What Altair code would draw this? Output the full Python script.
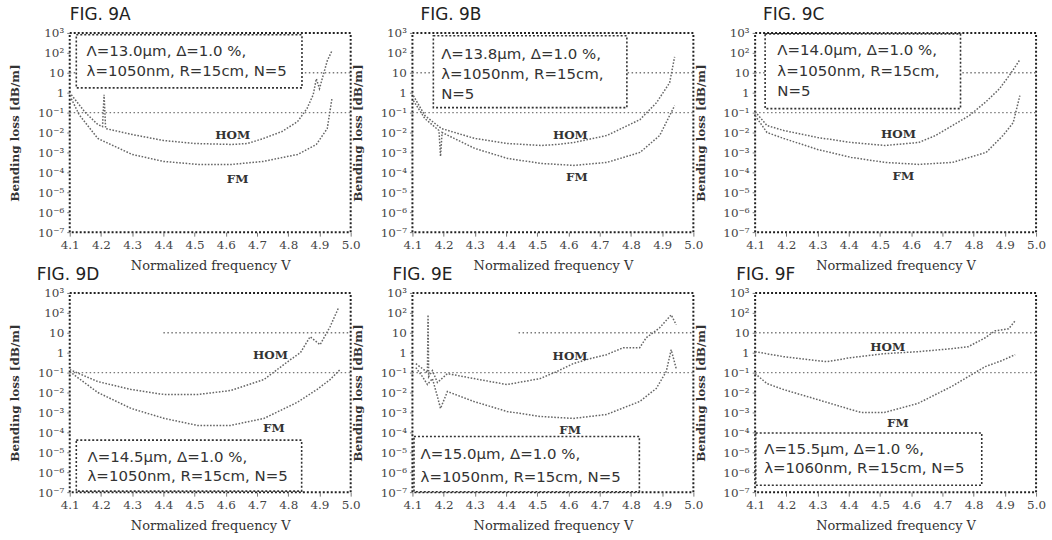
import altair as alt
import pandas as pd

# ---------------- data (x = normalized frequency V, e = log10 of bending loss in dB/m)
A_HOM_V = [4.105, 4.15, 4.19, 4.205, 4.21, 4.215, 4.30, 4.40, 4.50, 4.62, 4.67, 4.72, 4.78, 4.83, 4.86, 4.88, 4.89, 4.90, 4.925, 4.94]
A_HOM_E = [-0.1, -1.0, -1.6, -1.7, -0.1, -1.8, -2.1, -2.4, -2.55, -2.6, -2.55, -2.3, -1.95, -1.45, -0.8, -0.1, 0.7, 0.2, 1.6, 2.1]
A_FM_V = [4.105, 4.13, 4.19, 4.30, 4.40, 4.51, 4.62, 4.72, 4.83, 4.89, 4.925, 4.94]
A_FM_E = [-0.3, -1.1, -2.3, -3.1, -3.45, -3.6, -3.6, -3.45, -3.1, -2.6, -1.8, -0.3]

B_HOM_V = [4.103, 4.14, 4.193, 4.30, 4.405, 4.511, 4.564, 4.617, 4.723, 4.829, 4.882, 4.924, 4.94]
B_HOM_E = [-0.15, -1.15, -1.8, -2.3, -2.55, -2.65, -2.6, -2.5, -2.15, -1.35, -0.5, 0.5, 1.8]
B_FM_V = [4.103, 4.14, 4.185, 4.19, 4.195, 4.30, 4.405, 4.511, 4.617, 4.723, 4.829, 4.892, 4.924, 4.94]
B_FM_E = [-0.4, -1.3, -1.9, -3.2, -2.0, -2.8, -3.3, -3.55, -3.65, -3.5, -3.0, -2.15, -1.15, -0.65]

C_HOM_V = [4.10, 4.138, 4.192, 4.30, 4.408, 4.516, 4.624, 4.678, 4.732, 4.786, 4.84, 4.883, 4.916, 4.948]
C_HOM_E = [-0.95, -1.65, -1.9, -2.25, -2.5, -2.65, -2.5, -2.15, -1.65, -1.15, -0.45, 0.2, 0.9, 1.65]
C_FM_V = [4.10, 4.138, 4.192, 4.30, 4.408, 4.516, 4.624, 4.732, 4.84, 4.894, 4.927, 4.948]
C_FM_E = [-1.15, -2.0, -2.3, -2.85, -3.25, -3.5, -3.6, -3.5, -3.0, -2.15, -1.5, -0.15]

D_HOM_V = [4.10, 4.19, 4.297, 4.403, 4.509, 4.615, 4.722, 4.807, 4.839, 4.87, 4.902, 4.934, 4.961]
D_HOM_E = [-0.85, -1.45, -1.85, -2.1, -2.1, -1.9, -1.35, -0.35, 0.0, 0.8, 0.4, 1.3, 2.25]
D_FM_V = [4.10, 4.19, 4.297, 4.403, 4.509, 4.615, 4.722, 4.828, 4.892, 4.934, 4.966]
D_FM_E = [-0.95, -2.0, -2.8, -3.3, -3.65, -3.65, -3.3, -2.5, -1.85, -1.35, -0.85]

E_HOM_V = [4.111, 4.132, 4.148, 4.15, 4.152, 4.164, 4.18, 4.212, 4.297, 4.403, 4.509, 4.562, 4.615, 4.669, 4.722, 4.775, 4.828, 4.849, 4.892, 4.929, 4.945]
E_HOM_E = [-0.55, -0.8, -1.0, 1.9, -1.2, -0.9, -1.5, -1.05, -1.3, -1.6, -1.3, -0.95, -0.55, -0.3, -0.1, 0.25, 0.25, 0.75, 1.25, 1.9, 1.4]
E_FM_V = [4.111, 4.132, 4.148, 4.164, 4.18, 4.19, 4.212, 4.297, 4.403, 4.509, 4.615, 4.722, 4.828, 4.881, 4.913, 4.929, 4.945]
E_FM_E = [-0.75, -1.2, -1.6, -1.3, -2.2, -2.8, -1.95, -2.45, -2.95, -3.2, -3.3, -3.1, -2.45, -1.8, -0.95, 0.15, -0.8]

F_HOM_V = [4.10, 4.191, 4.299, 4.331, 4.406, 4.514, 4.621, 4.729, 4.783, 4.837, 4.869, 4.912, 4.933]
F_HOM_E = [0.05, -0.2, -0.4, -0.45, -0.25, -0.05, 0.05, 0.2, 0.3, 0.75, 1.1, 1.2, 1.6]
F_FM_V = [4.10, 4.138, 4.191, 4.299, 4.406, 4.439, 4.514, 4.621, 4.729, 4.783, 4.837, 4.89, 4.933]
F_FM_E = [-1.05, -1.55, -1.85, -2.35, -2.85, -3.0, -3.0, -2.55, -1.7, -1.2, -0.7, -0.4, -0.1]

FIG_TITLES = ["FIG. 9A", "FIG. 9B", "FIG. 9C", "FIG. 9D", "FIG. 9E", "FIG. 9F"]

# curve labels
LBL_HOM_V = [4.622, 4.606, 4.559, 4.743, 4.605, 4.525]
LBL_HOM_E = [-2.13, -2.12, -2.07, -0.11, -0.19, 0.28]
LBL_FM_V = [4.638, 4.627, 4.575, 4.754, 4.605, 4.557]
LBL_FM_E = [-4.31, -4.24, -4.18, -3.8, -3.89, -3.52]

# parameter boxes
BOX_V1 = [4.121, 4.167, 4.132, 4.121, 4.105, 4.102]
BOX_V2 = [4.844, 4.787, 4.758, 4.843, 4.827, 4.826]
BOX_TOP = [2.91, 2.86, 2.95, -4.39, -4.21, -4.03]
BOX_BOTTOM = [0.24, -0.75, -0.8, -6.95, -6.98, -6.65]
TEXT_V = [4.154, 4.192, 4.171, 4.157, 4.126, 4.129]
TEXT_LINES = [
    ["Λ=13.0μm, Δ=1.0 %,", "λ=1050nm, R=15cm, N=5"],
    ["Λ=13.8μm, Δ=1.0 %,", "λ=1050nm, R=15cm,", "N=5"],
    ["Λ=14.0μm, Δ=1.0 %,", "λ=1050nm, R=15cm,", "N=5"],
    ["Λ=14.5μm, Δ=1.0 %,", "λ=1050nm, R=15cm, N=5"],
    ["Λ=15.0μm, Δ=1.0 %,", "λ=1050nm, R=15cm, N=5"],
    ["Λ=15.5μm, Δ=1.0 %,", "λ=1060nm, R=15cm, N=5"],
]
TEXT_E = [
    [2.1, 1.09],
    [1.95, 0.94, -0.06],
    [2.14, 1.07, 0.06],
    [-5.23, -6.21],
    [-5.07, -6.23],
    [-4.82, -5.81],
]

# dotted reference lines at 10 and 0.1 dB/m
GRID_E = [1, -1]
GRID10_START = [4.1, 4.1, 4.1, 4.40, 4.44, 4.1]

X_TICKS = [4.1, 4.2, 4.3, 4.4, 4.5, 4.6, 4.7, 4.8, 4.9, 5.0]
Y_TICKS = [-7, -6, -5, -4, -3, -2, -1, 0, 1, 2, 3]
Y_LABELS = ["10⁻⁷", "10⁻⁶", "10⁻⁵", "10⁻⁴", "10⁻³", "10⁻²", "10⁻¹", "1", "10", "10²", "10³"]

TITLE_DX = [0, 8, 8, -33, -20, -19]

HOM_V = [A_HOM_V, B_HOM_V, C_HOM_V, D_HOM_V, E_HOM_V, F_HOM_V]
HOM_E = [A_HOM_E, B_HOM_E, C_HOM_E, D_HOM_E, E_HOM_E, F_HOM_E]
FM_V = [A_FM_V, B_FM_V, C_FM_V, D_FM_V, E_FM_V, F_FM_V]
FM_E = [A_FM_E, B_FM_E, C_FM_E, D_FM_E, E_FM_E, F_FM_E]

# ---------------- chart
W, H = 282, 200
xs = alt.Scale(domain=[4.1, 5.0], nice=False, zero=False)
ys = alt.Scale(domain=[-7, 3], nice=False, zero=False)
label_expr = "[" + ",".join("'" + s + "'" for s in Y_LABELS) + "][datum.value + 7]"

X_AXIS = alt.Axis(
    values=X_TICKS, format=".1f", title="Normalized frequency    V",
    labelFont="DejaVu Serif", labelFontSize=12, labelColor="#444",
    titleFont="DejaVu Serif", titleFontSize=13, titleFontWeight="normal", titleColor="#333",
    titlePadding=9, labelPadding=3, domain=False, grid=False, tickSize=4, tickColor="#777",
    labelFlush=False,
)
Y_AXIS = alt.Axis(
    values=Y_TICKS, labelExpr=label_expr, title="Bending loss [dB/m]",
    labelFont="DejaVu Serif", labelFontSize=12, labelColor="#444",
    titleFont="DejaVu Serif", titleFontSize=12, titleFontWeight="bold", titleColor="#333",
    titlePadding=10, labelPadding=3, domain=False, grid=False, tickSize=3, tickColor="#777",
    minExtent=38, maxExtent=38, labelFlush=False,
)


def panel(i):
    rows = []
    for k, (v, e) in enumerate(zip(HOM_V[i], HOM_E[i])):
        rows.append({"series": "HOM", "idx": k, "V": v, "E": e})
    for k, (v, e) in enumerate(zip(FM_V[i], FM_E[i])):
        rows.append({"series": "FM", "idx": k, "V": v, "E": e})
    curves = pd.DataFrame(rows)

    grid = pd.DataFrame({"E": GRID_E, "x0": [GRID10_START[i], 4.1], "x1": [5.0, 5.0]})
    box = pd.DataFrame({"v1": [BOX_V1[i]], "v2": [BOX_V2[i]], "t": [BOX_TOP[i]], "b": [BOX_BOTTOM[i]]})
    txt = pd.DataFrame({"V": [TEXT_V[i]] * len(TEXT_LINES[i]), "E": TEXT_E[i], "s": TEXT_LINES[i]})
    lbl = pd.DataFrame({"V": [LBL_HOM_V[i], LBL_FM_V[i]], "E": [LBL_HOM_E[i], LBL_FM_E[i]], "s": ["HOM", "FM"]})

    g = alt.Chart(grid).mark_rule(strokeDash=[1.5, 2.5], color="#7a7a7a", strokeWidth=1.3).encode(
        x=alt.X("x0:Q", scale=xs, axis=X_AXIS), x2="x1:Q",
        y=alt.Y("E:Q", scale=ys, axis=Y_AXIS),
    )
    r = alt.Chart(box).mark_rect(fill="white", stroke="#333", strokeDash=[2, 2], strokeWidth=1.6).encode(
        x=alt.X("v1:Q", scale=xs, axis=X_AXIS), x2="v2:Q",
        y=alt.Y("t:Q", scale=ys, axis=Y_AXIS), y2="b:Q",
    )
    t = alt.Chart(txt).mark_text(align="left", baseline="middle", font="DejaVu Sans", fontSize=15, color="#333").encode(
        x=alt.X("V:Q", scale=xs, axis=X_AXIS), y=alt.Y("E:Q", scale=ys, axis=Y_AXIS), text="s:N",
    )
    ln = alt.Chart(curves).mark_line(strokeDash=[1.6, 1.6], color="#666", strokeWidth=1.5, clip=True).encode(
        x=alt.X("V:Q", scale=xs, axis=X_AXIS), y=alt.Y("E:Q", scale=ys, axis=Y_AXIS),
        detail="series:N", order="idx:Q",
    )
    lb = alt.Chart(lbl).mark_text(font="DejaVu Serif", fontWeight="bold", fontSize=12, color="#333").encode(
        x=alt.X("V:Q", scale=xs, axis=X_AXIS), y=alt.Y("E:Q", scale=ys, axis=Y_AXIS), text="s:N",
    )
    return alt.layer(g, r, t, ln, lb).properties(
        width=W, height=H,
        title=alt.TitleParams(
            text=FIG_TITLES[i], anchor="start", frame="group", dx=TITLE_DX[i],
            font="DejaVu Sans", fontSize=17, fontWeight="normal", color="#222", offset=3,
        ),
    )


chart = alt.concat(
    *[panel(i) for i in range(6)], columns=3, spacing={"row": 61, "column": 62}, bounds="flush"
).properties(
    padding={"left": 8, "top": 4, "right": 5, "bottom": 5},
    background="white",
).configure_view(
    stroke="#222", strokeDash=[2, 2], strokeWidth=2,
)

chart.save("out.html", embed_options={"renderer": "svg", "actions": False})
